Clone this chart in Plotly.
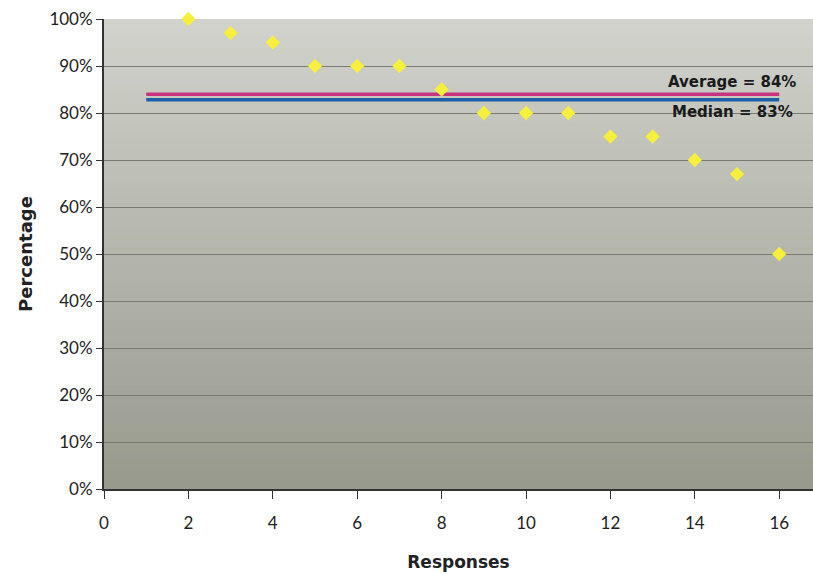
import plotly.graph_objects as go

responses = [2, 3, 4, 5, 6, 7, 8, 9, 10, 11, 12, 13, 14, 15, 16]
percentages = [100, 97, 95, 90, 90, 90, 85, 80, 80, 80, 75, 75, 70, 67, 50]
average_value = 84
median_value = 82.8
line_x = [1, 16]
y_ticks = [0, 10, 20, 30, 40, 50, 60, 70, 80, 90, 100]
y_labels = ["0%", "10%", "20%", "30%", "40%", "50%", "60%", "70%", "80%", "90%", "100%"]
x_ticks = [0, 2, 4, 6, 8, 10, 12, 14, 16]

fig = go.Figure()

# gradient background bands
top = (208, 210, 203)
bot = (152, 154, 142)
n = 50
shapes = []
for i in range(n):
    t = i / (n - 1)
    c = tuple(int(round(top[k] + (bot[k] - top[k]) * t)) for k in range(3))
    y1 = 100 - i * 100 / n
    y0 = max(0, 100 - (i + 1) * 100 / n - 1.0)
    shapes.append(dict(type="rect", xref="paper", yref="y", x0=0, x1=1, y0=y0, y1=y1,
                       fillcolor="rgb(%d,%d,%d)" % c, line=dict(width=0), layer="below"))

fig.add_trace(go.Scatter(x=line_x, y=[average_value] * 2, mode="lines",
                         line=dict(color="#c8327e", width=3.5), hoverinfo="skip"))
fig.add_trace(go.Scatter(x=line_x, y=[median_value] * 2, mode="lines",
                         line=dict(color="#1f5fa8", width=3.5), hoverinfo="skip"))
fig.add_trace(go.Scatter(x=responses, y=percentages, mode="markers", cliponaxis=False,
                         marker=dict(symbol="diamond", size=11, color="#f6ef3c", line=dict(width=0))))

fig.add_annotation(x=16.45, y=average_value, text="<b>Average = 84%</b>", showarrow=False,
                   xanchor="right", yanchor="bottom", yshift=1,
                   font=dict(family="DejaVu Sans", size=15, color="#1a1a1a"))
fig.add_annotation(x=16.38, y=median_value, text="<b>Median = 83%</b>", showarrow=False,
                   xanchor="right", yanchor="top", yshift=-1,
                   font=dict(family="DejaVu Sans", size=15, color="#1a1a1a"))

fig.update_layout(
    width=813, height=575,
    margin=dict(l=104, r=0, t=19, b=86, autoexpand=False),
    paper_bgcolor="white",
    plot_bgcolor="rgb(180,182,172)",
    showlegend=False,
    shapes=shapes,
    font=dict(family="Lato", size=17, color="#222"),
    xaxis=dict(range=[0, 16.8], tickvals=x_ticks, showgrid=False, zeroline=False, automargin=False,
               showline=True, linecolor="#333", linewidth=2, ticks="outside", ticklen=8,
               tickcolor="#333", tickfont=dict(size=17, family="Lato"), ticklabelstandoff=10,
               title=dict(text="<b>Responses</b>", font=dict(family="DejaVu Sans", size=17), standoff=24)),
    yaxis=dict(range=[0, 100], tickvals=y_ticks, ticktext=y_labels, showgrid=True, automargin=False,
               gridcolor="#7a7a74", gridwidth=1, zeroline=False,
               showline=True, linecolor="#333", linewidth=2, ticks="outside", ticklen=6,
               tickcolor="#333", tickfont=dict(size=17, family="Lato"),
               title=dict(text="<b>Percentage</b>", font=dict(family="DejaVu Sans", size=18), standoff=12)),
)

fig.write_html("out.html", config={"displayModeBar": False},
               post_script="document.body.style.margin='0';document.body.style.overflow='hidden';")
